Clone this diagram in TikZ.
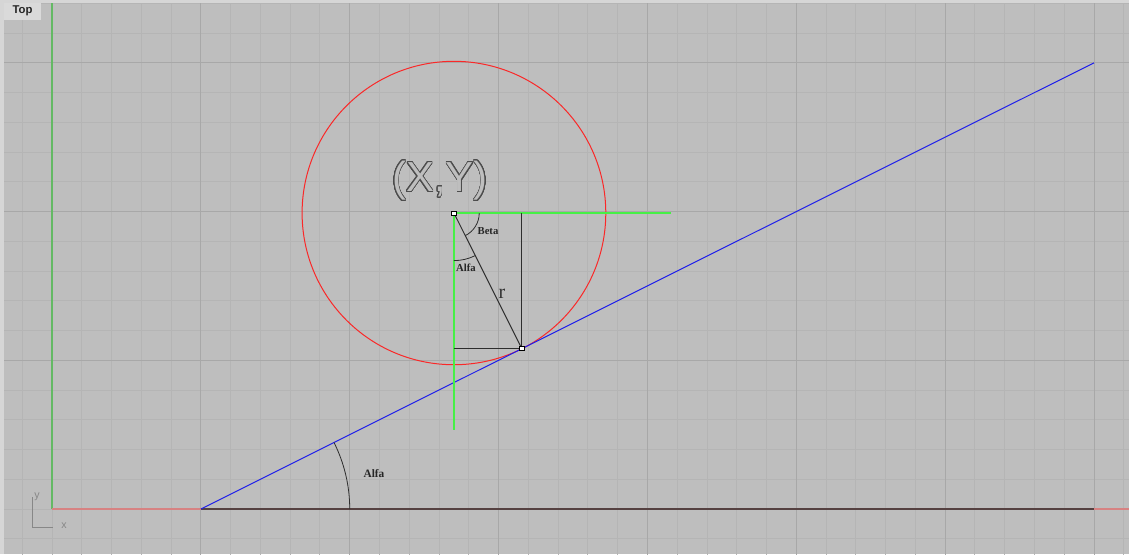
\documentclass[tikz,border=0pt]{standalone}
\usepackage{fontspec}
\setmainfont{Liberation Serif}
\newfontfamily\arialf{Liberation Sans}
\usepackage{contour}
\contournumber{32}
\usetikzlibrary{calc}
\definecolor{bgout}{RGB}{214,214,214}
\definecolor{bgview}{RGB}{190,190,190}
\definecolor{gridminor}{RGB}{181,181,181}
\definecolor{gridmajor}{RGB}{168,168,168}
\definecolor{axisgreen}{RGB}{100,185,100}
\definecolor{axisred}{RGB}{215,130,130}
\definecolor{cgreen}{RGB}{70,240,70}
\definecolor{cred}{RGB}{250,40,40}
\definecolor{cblue}{RGB}{30,30,235}
\definecolor{dline}{RGB}{45,45,45}
\definecolor{tabbg}{RGB}{218,218,218}
\definecolor{icongray}{RGB}{135,135,135}
\tikzset{
  minorline/.style={draw=gridminor, line width=0.75pt},
  majorline/.style={draw=gridmajor, line width=0.75pt},
  thinline/.style={line width=0.75pt},
  anglab/.style={font=\fontsize{8}{9}\selectfont\bfseries, inner sep=0pt, text=black!85},
  pt/.style={draw=black, fill=white, line width=0.5pt, minimum size=3.2pt, inner sep=0pt, rectangle}
}
\begin{document}
\begin{tikzpicture}[x=0.75pt, y=-0.75pt]
\useasboundingbox (0,0) rectangle (1129,554);
\fill[bgout] (0,0) rectangle (1129,554);
\fill[bgview] (4,3) rectangle (1129,554);
\begin{scope}
\clip (4,3) rectangle (1129,554);
\begin{scope}[xshift=39pt, yshift=-381.75pt, x=22.33pt, y=22.31pt]
  % grid
  \foreach \i in {-1,...,37} \draw[minorline] (\i,-2) -- (\i,18);
  \foreach \j in {-2,...,18} \draw[minorline] (-2,\j) -- (38,\j);
  \foreach \i in {5,10,...,35} \draw[majorline] (\i,-2) -- (\i,18);
  \foreach \j in {5,10,15} \draw[majorline] (-2,\j) -- (38,\j);
  % axes
  \draw[axisgreen, line width=1.2pt] (0,0) -- (0,18);
  \draw[axisred, line width=1.2pt] (0,0) -- (38,0);
  % key points
  \coordinate (O) at (5,0);
  \coordinate (E) at (35,15);
  \coordinate (B) at (35,0);
  \coordinate (C) at (13.5,9.95);
  \coordinate (T) at (15.78,5.39);
  \coordinate (Gh) at (20.8,9.95);
  \coordinate (Gv) at (13.5,2.65);
  \coordinate (Tv) at (15.78,9.95);
  \coordinate (Th) at (13.5,5.39);
  % base line
  \draw[draw={rgb,255:red,85;green,65;blue,65}, line width=1pt] (O) -- (B);
  % circle
  \draw[cred, thinline] (C) circle (5.1);
  % blue line
  \draw[cblue, thinline] (O) -- (E);
  % green construction
  \draw[cgreen, line width=1pt] (C) -- (Gh);
  \draw[cgreen, line width=1pt] (C) -- (Gv);
  % black construction
  \draw[dline, thinline] (C) -- (T);
  \draw[dline, thinline] (Tv) -- (T);
  \draw[dline, thinline] (Th) -- (T);
  % angle arcs
  \draw[dline, line width=0.6pt] ($(C)+(0.85,0)$) arc[start angle=0, end angle=-63.43, radius=0.85];
  \draw[dline, line width=0.6pt] ($(C)+(0,-1.6)$) arc[start angle=-90, end angle=-63.43, radius=1.6];
  \draw[dline, line width=0.6pt] ($(O)+(5,0)$) arc[start angle=0, end angle=26.57, radius=5];
  % points
  \node[pt] (pC) at (C) {};
  \node[pt] (pT) at (T) {};
\end{scope}
\end{scope}
% labels (px coordinates)
\node[anglab] (beta) at (488,231) {Beta};
\node[anglab] (alfa1) at (466,268) {Alfa};
\node[anglab, font=\fontsize{8.5}{10}\selectfont\bfseries] (alfa2) at (374,474) {Alfa};
\node[inner sep=0pt, font=\fontsize{15}{17}\selectfont, text=black!80] (rlab) at (502,294) {r};
\contourlength{0.5pt}
\node[inner sep=0pt, font=\arialf\fontsize{31.5}{34}\selectfont] (xy) at (440,181) {\contour{black!70}{\textcolor{bgview}{(X,Y)}}};
% axis icon
\draw[icongray, line width=0.6pt] (32,497) -- (32,527) -- (53,527);
\node[icongray, inner sep=0pt, font=\arialf\fontsize{8}{9}\selectfont] (ylab) at (37,497) {y};
\node[icongray, inner sep=0pt, font=\arialf\fontsize{8}{9}\selectfont] (xlab) at (64,526) {x};
% Top tab
\fill[tabbg] (4,3) rectangle (41,20);
\node[inner sep=0pt, font=\arialf\bfseries\fontsize{8.5}{10}\selectfont, text=black!85] (top) at (22.5,11) {Top};
\end{tikzpicture}
\end{document}
